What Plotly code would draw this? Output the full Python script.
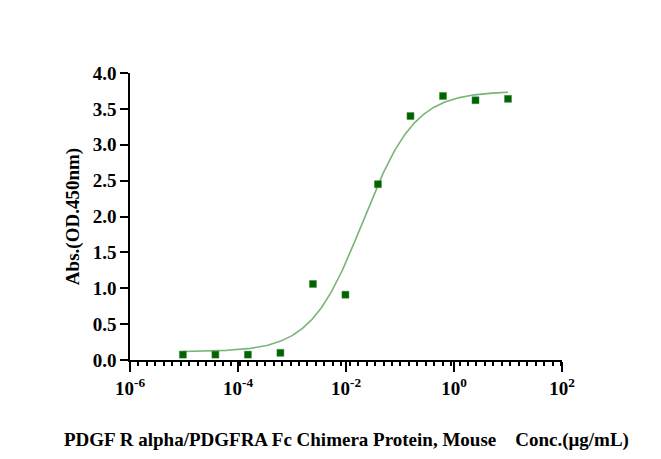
import numpy as np
import plotly.graph_objects as go

# Data
conc = [10, 2.5, 0.625, 0.15625, 0.0390625, 0.009765625, 0.00244140625,
        0.0006103515625, 0.000152587890625, 3.814697265625e-05, 9.5367431640625e-06]
absorb = [3.64, 3.62, 3.68, 3.40, 2.45, 0.91, 1.06, 0.10, 0.075, 0.075, 0.075]

# 4PL fit parameters
bottom, top, ec50, hill = 0.115, 3.745, 0.0205, 0.9

xticks = [1e-6, 1e-4, 1e-2, 1, 100]
xticktext = ["10<sup>-6</sup>", "10<sup>-4</sup>", "10<sup>-2</sup>", "10<sup>0</sup>", "10<sup>2</sup>"]
yticks = [0.0, 0.5, 1.0, 1.5, 2.0, 2.5, 3.0, 3.5, 4.0]
minor_step_decades = 0.1565  # evenly spaced minor ticks along the log axis

xfit = np.logspace(np.log10(min(conc)), np.log10(max(conc)), 300)
yfit = bottom + (top - bottom) / (1 + (ec50 / xfit) ** hill)

FONT = "Liberation Serif"
FS = 19
fig = go.Figure()
fig.add_trace(go.Scatter(x=xfit, y=yfit, mode="lines",
                         line=dict(color="#79b479", width=1.6),
                         hoverinfo="skip", showlegend=False))
fig.add_trace(go.Scatter(x=conc, y=absorb, mode="markers",
                         marker=dict(symbol="square", size=7, color="#006400",
                                     line=dict(width=0.5, color="#3a8a3a")),
                         showlegend=False))
# invisible copy of the curve in log10 space, only to carry the minor-tick axis
fig.add_trace(go.Scatter(x=np.log10(xfit), y=yfit, xaxis="x2", yaxis="y",
                         mode="lines", line=dict(width=1, color="rgba(0,0,0,0)"),
                         hoverinfo="skip", showlegend=False))

fig.update_layout(
    width=661, height=459,
    margin=dict(l=122, r=107, t=65, b=107),
    plot_bgcolor="white", paper_bgcolor="white",
    font=dict(family=FONT, size=FS, color="black"),
    xaxis=dict(type="log", range=[-6, 2], tickmode="array", tickvals=xticks, ticktext=xticktext,
               showline=True, linecolor="black", linewidth=1.5,
               ticks="outside", ticklen=10, tickwidth=1.5, tickcolor="black",
               showgrid=False, zeroline=False,
               tickfont=dict(family=FONT, size=FS, color="black", weight="bold")),
    xaxis2=dict(overlaying="x", anchor="y", side="bottom", range=[-6, 2],
                tickmode="linear", tick0=-6, dtick=minor_step_decades,
                showticklabels=False, ticks="outside", ticklen=4, tickwidth=2,
                tickcolor="black", showgrid=False, zeroline=False, showline=True,
                linecolor="black", linewidth=1.5),
    yaxis=dict(range=[0, 4], tickvals=yticks, ticktext=[f"{v:.1f}" for v in yticks],
               showline=True, linecolor="black", linewidth=1.5,
               ticks="outside", ticklen=8, tickwidth=1.5, tickcolor="black",
               showgrid=False, zeroline=False,
               tickfont=dict(family=FONT, size=FS, color="black", weight="bold"),
               title=dict(text="Abs.(OD.450nm)", standoff=8,
                          font=dict(family=FONT, size=FS, color="black", weight="bold"))),
    annotations=[dict(text="PDGF R alpha/PDGFRA Fc Chimera Protein, Mouse&nbsp;&nbsp;&nbsp;&nbsp;Conc.(μg/mL)",
                      xref="paper", yref="paper", x=0.502, y=-0.279,
                      xanchor="center", yanchor="middle", showarrow=False,
                      font=dict(family=FONT, size=FS, color="black", weight="bold"))],
)

fig.write_html("out.html")
